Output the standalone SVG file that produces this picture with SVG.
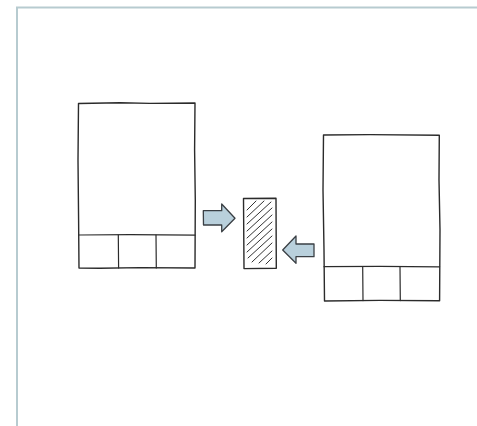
<svg xmlns="http://www.w3.org/2000/svg" width="477" height="426" viewBox="0 0 477 426">
<style>
.frame{fill:none;stroke:#b7cbd0;stroke-width:2}
.box{fill:#fff;stroke:#2b2b2b;stroke-width:1.4;stroke-linejoin:round;stroke-linecap:round}
.ln{fill:none;stroke:#2b2b2b;stroke-width:1.2;stroke-linecap:round}
.hatch{fill:none;stroke:#333;stroke-width:1;stroke-linecap:round}
.arrow{fill:#b9d0dc;stroke:#3a3f44;stroke-width:1.3;stroke-linejoin:round}
</style>
<rect width="477" height="426" fill="#fff"/>
<path class="frame" d="M17 426 V7.5 H477"/>
<g id="left-device">
<path class="box" d="M78.5 103.5 L120 102.8 L150 103.4 L195 103 L194.6 150 L195.3 200 L195 268 L140 267.6 L100 268.3 L79 268 L78.6 220 L78 160 Z"/>
<path class="ln" d="M79 235 L130 234.6 L195 235.2"/>
<path class="ln" d="M118.3 235 L118.6 268"/>
<path class="ln" d="M156 235 L156.3 268"/>
</g>
<g id="right-device">
<path class="box" d="M323.5 135 L370 134.6 L439.3 135.2 L439 180 L440 230 L439.6 300.7 L380 300.4 L324.5 301 L324 250 L323 190 Z"/>
<path class="ln" d="M324 266.7 L380 266.3 L439.6 266.8"/>
<path class="ln" d="M362.7 267 L363 300.6"/>
<path class="ln" d="M400 266.5 L400.3 300.6"/>
</g>
<g id="shared-block">
<path class="box" d="M243.5 198.5 L276 198.2 L276.3 268.3 L244 268.6 Z"/>
<g class="hatch">
<line x1="247" y1="210" x2="256" y2="201"/>
<line x1="247" y1="217" x2="264" y2="201"/>
<line x1="247" y1="224" x2="271" y2="202"/>
<line x1="247" y1="231" x2="272" y2="208"/>
<line x1="247" y1="238" x2="272" y2="215"/>
<line x1="247" y1="245" x2="272" y2="222"/>
<line x1="247" y1="252" x2="272" y2="229"/>
<line x1="248" y1="258" x2="272" y2="236"/>
<line x1="252" y1="262" x2="272" y2="243"/>
<line x1="259" y1="263" x2="272" y2="251"/>
<line x1="266" y1="264" x2="272" y2="258"/>
</g>
</g>
<g id="connectors">
<path class="arrow" d="M203.3 210.7 L221.7 210.7 L221.7 204 L235 218.3 L221.7 231.7 L221.7 225 L203.5 225 Z"/>
<path class="arrow" d="M314 244 L296 244 L296 236 L282.7 250 L296 263.3 L296 256.7 L314 256.7 Z"/>
</g>
</svg>
